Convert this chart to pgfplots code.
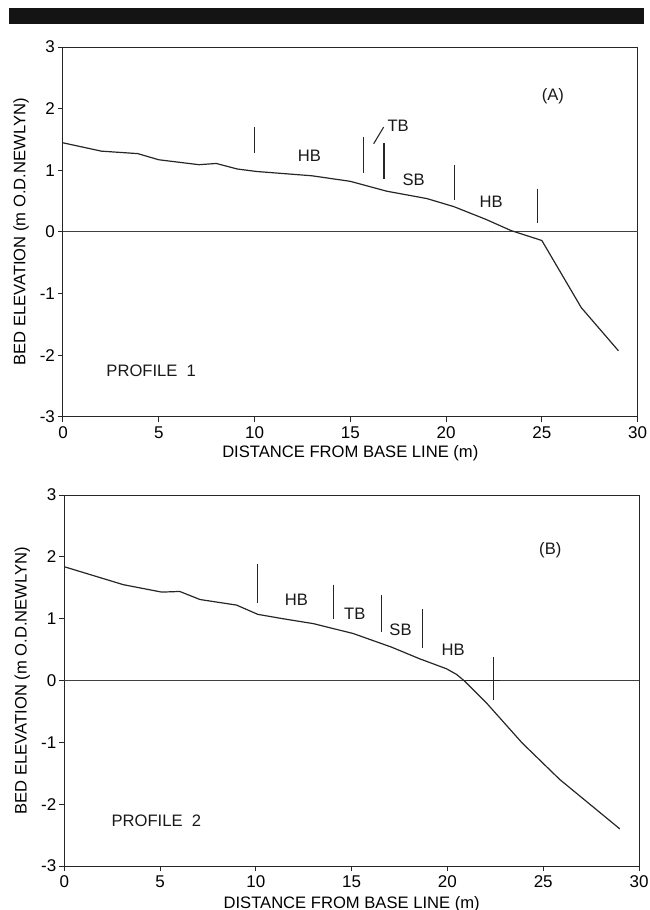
\documentclass[border=0pt]{standalone}
\usepackage{fontspec}
\setmainfont{Liberation Sans}
\usepackage{pgfplots}
\pgfplotsset{compat=1.18}

\pgfplotsset{profile/.style={
  scale only axis, width=287.3pt, height=185pt,
  xmin=0, xmax=30, ymin=-3, ymax=3,
  xtick={0,5,...,30}, ytick={-3,-2,...,3},
  tick align=outside, major tick length=2.5pt,
  xtick pos=bottom, ytick pos=left,
  axis line style={line width=0.5pt, black!85},
  tick style={line width=0.5pt, black!85},
  /pgf/number format/assume math mode=true,
  tick label style={font=\fontsize{8.5}{10}\selectfont},
  yticklabel style={xshift=2pt},
  xticklabel style={yshift=1pt},
  label style={font=\fontsize{8.3}{10}\selectfont},
  xlabel={DISTANCE FROM BASE LINE (m)},
  ylabel={BED ELEVATION (m O.D.NEWLYN)},
  ylabel style={at={(axis description cs:-0.073,0.5)}, anchor=center},
  clip=false,
}}
\tikzset{
  bed/.style={black!85, line width=0.6pt},
  zero/.style={black!75, line width=0.45pt},
  seg/.style={black!85, line width=0.55pt},
  lab/.style={font=\fontsize{8.3}{10}\selectfont, black!90},
}

\begin{document}
\begin{tikzpicture}
\useasboundingbox (0,0) rectangle (324.5pt,-455pt);
\fill[black!92] (4.5pt,-4pt) rectangle (322pt,-12pt);

% ---- Profile 1 ----
\begin{axis}[profile, at={(31.5pt,-208.35pt)}, anchor=south west,
  height=184.85pt,
  xlabel style={at={(axis description cs:0.5,-0.098)}, anchor=center}]
  \addplot[zero, no marks] coordinates {(0,0) (30,0)};
  \addplot[bed, no marks] table[row sep=\\]{
    x y \\
    0 1.445 \\ 2.0 1.31 \\ 3.9 1.27 \\ 5.0 1.17 \\ 7.1 1.09 \\
    8.0 1.11 \\ 9.1 1.02 \\ 10.1 0.98 \\ 13.0 0.91 \\ 15.0 0.82 \\
    16.9 0.66 \\ 19.0 0.54 \\ 20.4 0.41 \\ 22.1 0.20 \\ 23.4 0.02 \\
    23.8 -0.02 \\ 25.0 -0.14 \\ 27.06 -1.23 \\ 29.0 -1.93 \\
  };
  \addplot[seg, no marks] coordinates {(10,1.70) (10,1.28)};
  \addplot[seg, no marks] coordinates {(15.69,1.54) (15.69,0.96)};
  \addplot[seg, no marks] coordinates {(16.76,1.44) (16.76,0.85)};
  \addplot[seg, no marks] coordinates {(20.45,1.08) (20.45,0.52)};
  \addplot[seg, no marks] coordinates {(24.77,0.70) (24.77,0.15)};
  \addplot[seg, no marks] coordinates {(16.22,1.43) (16.74,1.70)};
  \node[lab] at (axis cs:12.87,1.23) {HB};
  \node[lab] at (axis cs:17.5,1.72) {TB};
  \node[lab] at (axis cs:18.31,0.85) {SB};
  \node[lab] at (axis cs:22.36,0.49) {HB};
  \node[lab] at (axis cs:25.58,2.20) {(A)};
  \node[lab, anchor=west] at (axis cs:1.9,-2.26) {PROFILE\ \ 1};
\end{axis}

% ---- Profile 2 ----
\begin{axis}[profile, at={(32.15pt,-433pt)}, anchor=south west,
  width=287.35pt, height=185.5pt,
  xlabel style={at={(axis description cs:0.5,-0.104)}, anchor=center}]
  \addplot[zero, no marks] coordinates {(0,0) (30,0)};
  \addplot[bed, no marks] table[row sep=\\]{
    x y \\
    0 1.84 \\ 3.08 1.55 \\ 5.08 1.43 \\ 6.03 1.44 \\ 7.08 1.31 \\
    8.99 1.22 \\ 10.1 1.07 \\ 11.4 1.00 \\ 13.0 0.92 \\ 15.08 0.76 \\
    17.08 0.54 \\ 18.56 0.35 \\ 19.95 0.19 \\ 20.47 0.10 \\ 20.9 -0.01 \\
    22.03 -0.36 \\ 23.9 -1.01 \\ 25.86 -1.60 \\ 29.0 -2.40 \\
  };
  \addplot[seg, no marks] coordinates {(10.09,1.88) (10.09,1.26)};
  \addplot[seg, no marks] coordinates {(14.03,1.55) (14.03,1.00)};
  \addplot[seg, no marks] coordinates {(16.57,1.39) (16.57,0.79)};
  \addplot[seg, no marks] coordinates {(18.68,1.15) (18.68,0.52)};
  \addplot[seg, no marks] coordinates {(22.4,0.38) (22.4,-0.31)};
  \addplot[seg, no marks] coordinates {(20.9,0) (22.73,0)};
  \node[lab] at (axis cs:12.12,1.31) {HB};
  \node[lab] at (axis cs:15.16,1.08) {TB};
  \node[lab] at (axis cs:17.55,0.82) {SB};
  \node[lab] at (axis cs:20.3,0.49) {HB};
  \node[lab] at (axis cs:25.37,2.11) {(B)};
  \node[lab, anchor=west] at (axis cs:2.1,-2.27) {PROFILE\ \ 2};
\end{axis}
\end{tikzpicture}
\end{document}
